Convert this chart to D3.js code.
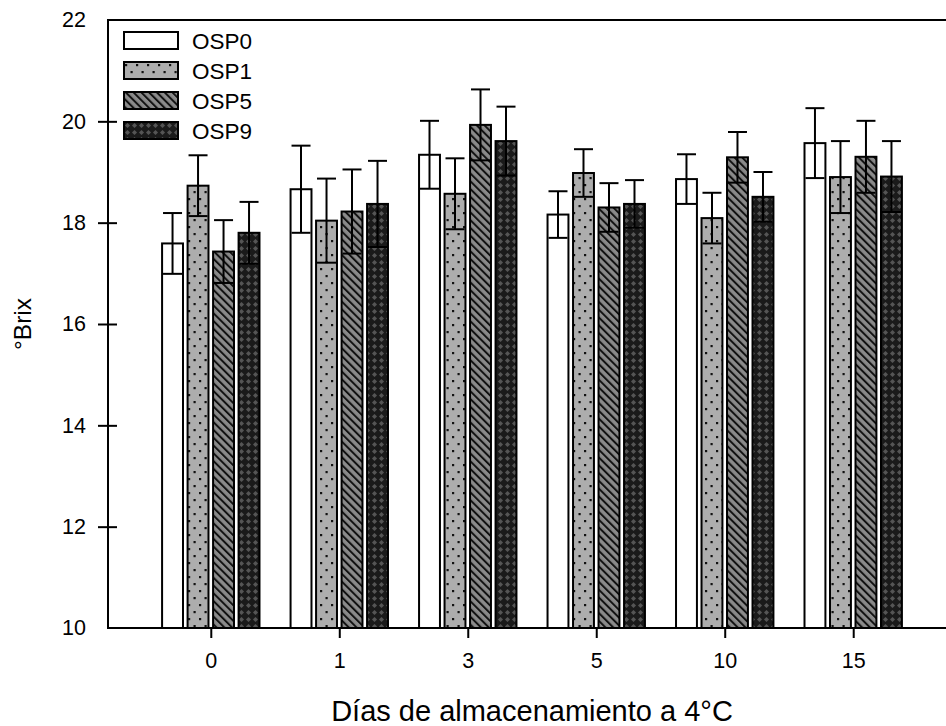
<!DOCTYPE html>
<html>
<head>
<meta charset="utf-8">
<script src="https://cdn.jsdelivr.net/npm/d3@7.9.0/dist/d3.min.js"></script>
<style>
  body { margin: 0; background: #fff; }
  svg { display: block; font-family: Arial, 'Liberation Sans', sans-serif; }
</style>
</head>
<body>
<svg id="chart" width="946" height="726"></svg>
<script>
// data
const days = ['0', '1', '3', '5', '10', '15'];
const series = ['OSP0', 'OSP1', 'OSP5', 'OSP9'];
const osp0 = [17.59, 18.66, 19.34, 18.16, 18.86, 19.57];
const osp1 = [18.73, 18.04, 18.57, 18.98, 18.09, 18.90];
const osp5 = [17.43, 18.22, 19.93, 18.30, 19.29, 19.30];
const osp9 = [17.80, 18.37, 19.61, 18.37, 18.51, 18.91];
const sd0 = [0.60, 0.86, 0.67, 0.46, 0.49, 0.69];
const sd1 = [0.60, 0.83, 0.70, 0.47, 0.50, 0.71];
const sd5 = [0.62, 0.83, 0.70, 0.48, 0.50, 0.71];
const sd9 = [0.61, 0.85, 0.68, 0.47, 0.49, 0.70];
const yTicks = [10, 12, 14, 16, 18, 20, 22];

const means = [osp0, osp1, osp5, osp9];
const sds = [sd0, sd1, sd5, sd9];

const svg = d3.select('#chart');
const mLeft = 108, mTop = 20, mBottom = 628, mRight = 956;

// patterns for the fills
const defs = svg.append('defs');

let p1 = defs.append('pattern').attr('id', 'pat1')
  .attr('patternUnits', 'userSpaceOnUse').attr('width', 11).attr('height', 14);
p1.append('rect').attr('width', 11).attr('height', 14).attr('fill', '#adadad');
p1.append('rect').attr('x', 1).attr('y', 2).attr('width', 2.2).attr('height', 2.2).attr('fill', '#111');
p1.append('rect').attr('x', 6.5).attr('y', 9).attr('width', 2.2).attr('height', 2.2).attr('fill', '#111');

let p5 = defs.append('pattern').attr('id', 'pat5')
  .attr('patternUnits', 'userSpaceOnUse').attr('width', 5.5).attr('height', 5.5)
  .attr('patternTransform', 'rotate(-45)');
p5.append('rect').attr('width', 5.5).attr('height', 5.5).attr('fill', '#8a8a8a');
p5.append('rect').attr('x', 0).attr('y', 0).attr('width', 2).attr('height', 5.5).attr('fill', '#111');

let p9 = defs.append('pattern').attr('id', 'pat9')
  .attr('patternUnits', 'userSpaceOnUse').attr('width', 7).attr('height', 7);
p9.append('rect').attr('width', 7).attr('height', 7).attr('fill', '#1a1a1a');
p9.append('path').attr('d', 'M3.5,1 L6,3.5 L3.5,6 L1,3.5 Z').attr('fill', '#555');

const fills = ['#ffffff', 'url(#pat1)', 'url(#pat5)', 'url(#pat9)'];

// scales
const x = d3.scalePoint().domain(days).range([mLeft, mRight]).padding(0.8);
const xInner = d3.scaleBand().domain(series).range([-51, 51])
  .paddingInner(0.18).paddingOuter(0.09);
const y = d3.scaleLinear().domain([10, 22]).range([mBottom, mTop]);

// bars
series.forEach((s, si) => {
  const g = svg.append('g');
  days.forEach((d, di) => {
    const bx = x(d) + xInner(s);
    const v = means[si][di];
    g.append('rect')
      .attr('x', bx)
      .attr('y', y(v))
      .attr('width', xInner.bandwidth())
      .attr('height', y(10) - y(v))
      .attr('fill', fills[si])
      .attr('stroke', '#000')
      .attr('stroke-width', 2);
  });
});

// error bars
series.forEach((s, si) => {
  days.forEach((d, di) => {
    const cx = x(d) + xInner(s) + xInner.bandwidth() / 2;
    const hi = means[si][di] + sds[si][di];
    const lo = means[si][di] - sds[si][di];
    const cap = 9.5;
    svg.append('line')
      .attr('x1', cx).attr('x2', cx).attr('y1', y(hi)).attr('y2', y(lo))
      .attr('stroke', '#000').attr('stroke-width', 2);
    [hi, lo].forEach(v => {
      svg.append('line')
        .attr('x1', cx - cap).attr('x2', cx + cap).attr('y1', y(v)).attr('y2', y(v))
        .attr('stroke', '#000').attr('stroke-width', 2);
    });
  });
});

// axes
const yAxis = svg.append('g')
  .attr('transform', `translate(${mLeft},0)`)
  .call(d3.axisLeft(y).tickValues(yTicks).tickSize(10).tickPadding(12));
yAxis.select('.domain').remove();
yAxis.selectAll('.tick line')
  .attr('x1', 9)
  .attr('stroke-width', 2)
  .attr('display', d => (d === 10 || d === 22) ? 'none' : null);
yAxis.selectAll('.tick text')
  .attr('font-size', 21.5).attr('font-family', 'Arial, Liberation Sans, sans-serif')
  .attr('fill', '#000');

const xAxis = svg.append('g')
  .attr('transform', `translate(0,${mBottom})`)
  .call(d3.axisBottom(x).tickSize(10).tickPadding(15));
xAxis.select('.domain').remove();
xAxis.selectAll('.tick line').attr('stroke-width', 2);
xAxis.selectAll('.tick text')
  .attr('font-size', 21.5).attr('font-family', 'Arial, Liberation Sans, sans-serif')
  .attr('fill', '#000');

// frame lines
svg.append('line').attr('x1', mLeft).attr('x2', mLeft).attr('y1', mTop - 1).attr('y2', mBottom + 1)
  .attr('stroke', '#000').attr('stroke-width', 2);
svg.append('line').attr('x1', mLeft - 1).attr('x2', 946).attr('y1', mBottom).attr('y2', mBottom)
  .attr('stroke', '#000').attr('stroke-width', 2);
svg.append('line').attr('x1', mLeft - 1).attr('x2', 946).attr('y1', mTop).attr('y2', mTop)
  .attr('stroke', '#000').attr('stroke-width', 2);

// axis titles
svg.append('text')
  .attr('x', (mLeft + mRight) / 2).attr('y', 721)
  .attr('text-anchor', 'middle')
  .attr('font-size', 29)
  .text('Días de almacenamiento a 4°C');

svg.append('text')
  .attr('transform', `translate(31,${(mTop + mBottom) / 2}) rotate(-90)`)
  .attr('text-anchor', 'middle')
  .attr('font-size', 24.5)
  .text('°Brix');

// legend
const legend = svg.append('g').attr('transform', 'translate(124,32)');
series.forEach((s, si) => {
  const row = legend.append('g').attr('transform', `translate(0,${si * 30})`);
  row.append('rect')
    .attr('width', 54).attr('height', 17)
    .attr('fill', fills[si]).attr('stroke', '#000').attr('stroke-width', 2);
  row.append('text')
    .attr('x', 68).attr('y', 16.5)
    .attr('font-size', 22.5)
    .text(s);
});
</script>
</body>
</html>
